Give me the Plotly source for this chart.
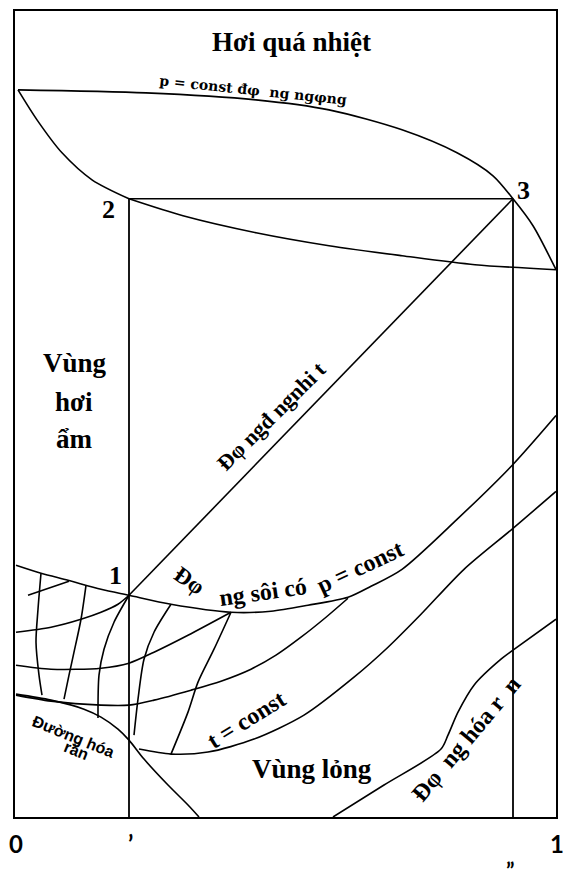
import plotly.graph_objects as go

# plot units: box is 541 wide x 807 tall, origin bottom-left
X_LEFT, X_RIGHT = 0, 541
Y_BOTTOM, Y_TOP = 0, 807
X_PRIME, X_DPRIME = 114, 498      # x' and x'' verticals
Y_23 = 619                        # level of the 2-3 line
P1 = (114, 222)                   # point 1
P3 = (498, 619)                   # point 3

# curves
top_x = [3, 131, 241, 314, 387, 442, 478, 498, 518, 541]
top_y = [728, 725, 718, 708, 688, 665, 642, 619, 592, 548]

left_x = [3, 22, 47, 77, 114]
left_y = [728, 698, 665, 638, 619]

low_x = [114, 168, 241, 314, 387, 460, 541]
low_y = [619, 602, 585, 572, 562, 553, 548]

boil_x = [1, 26, 53, 86, 114, 156, 216, 256, 293, 333, 356, 387, 442, 497, 541]
boil_y = [252, 244, 237, 228, 222, 213, 205, 206, 212, 220, 231, 248, 298, 352, 402]

c2_x = [1, 36, 66, 86, 103, 114]
c2_y = [185, 190, 198, 205, 213, 222]

c3_x = [1, 36, 86, 114, 139, 173, 216]
c3_y = [152, 148, 149, 154, 165, 182, 205]

c4_x = [1, 36, 86, 114, 139, 176, 206, 236, 261, 286, 311, 333]
c4_y = [122, 116, 112, 112, 117, 127, 136, 148, 162, 180, 200, 219]

tconst_x = [124, 156, 193, 239, 289, 339, 373, 406, 449, 498, 541]
tconst_y = [68, 63, 65, 78, 102, 140, 170, 203, 248, 289, 326]

melt_l_x = [1, 36, 69, 86, 103, 114, 129, 153, 173, 184]
melt_l_y = [123, 117, 108, 100, 88, 77, 58, 32, 12, 0]

melt_r_x = [318, 369, 426, 433, 443, 459, 486, 498, 541]
melt_r_y = [0, 32, 68, 82, 105, 132, 158, 167, 198]

v1_x = [26, 23, 21, 24, 27]
v1_y = [244, 208, 175, 142, 122]
v2_x = [71, 66, 59, 54, 49]
v2_y = [232, 198, 165, 142, 118]
v3_x = [114, 99, 89, 84, 83]
v3_y = [222, 195, 168, 142, 99]
v4_x = [156, 139, 129, 123, 119]
v4_y = [213, 185, 158, 118, 82]
v5_x = [216, 199, 183, 173, 156]
v5_y = [205, 168, 135, 105, 63]
short_x = [13, 54]
short_y = [222, 236]

# bottom labels (x in plot units, y in px below the box)
tick_text = ["0", "’", "1", "”"]
tick_x = [1, 115, 542, 496]
tick_dy = [27, 27, 27, 54]
tick_size = [24, 24, 24, 22]

SERIF = "Liberation Serif, Times New Roman, serif"
SANS = "Lato, Liberation Sans, sans-serif"

fig = go.Figure()


def line(xs, ys, shape="spline", width=1.6):
    fig.add_trace(go.Scatter(x=xs, y=ys, mode="lines", showlegend=False,
                             hoverinfo="skip",
                             line=dict(color="black", width=width, shape=shape,
                                       smoothing=0.8)))


for xs, ys in [(top_x, top_y), (left_x, left_y), (low_x, low_y),
               (boil_x, boil_y), (c2_x, c2_y), (c3_x, c3_y), (c4_x, c4_y),
               (tconst_x, tconst_y), (melt_l_x, melt_l_y),
               (melt_r_x, melt_r_y), (v1_x, v1_y), (v2_x, v2_y),
               (v3_x, v3_y), (v4_x, v4_y), (v5_x, v5_y)]:
    line(xs, ys)

line(short_x, short_y, "linear")
line([X_PRIME, X_DPRIME], [Y_23, Y_23], "linear")
line([X_PRIME, X_PRIME], [Y_BOTTOM, Y_23], "linear", 1.8)
line([X_DPRIME, X_DPRIME], [Y_BOTTOM, Y_23], "linear", 1.8)
line([P1[0], P3[0]], [P1[1], P3[1]], "linear")

# text labels: (text, x, y, size, angle, font)
labels = [
    ("Hơi quá nhiệt", 276, 776, 27, 0, SERIF),
    ("p = const đφ  ng ngφng", 238, 728, 14, 6, "DejaVu Serif"),
    ("2", 93, 608, 26, 0, SERIF),
    ("3", 508, 627, 26, 0, SERIF),
    ("Vùng", 60, 455, 27, 0, SERIF),
    ("hơi", 59, 416, 27, 0, SERIF),
    ("ẩm", 59, 378, 27, 0, SERIF),
    ("1", 100, 242, 26, 0, SERIF),
    ("Đφ ngđ ngnhi t", 256, 401, 22, -45, SERIF),
    ("Đφ", 174, 237, 23, 35, SERIF),
    ("ng sôi có", 248, 225, 24, -8, SERIF),
    ("p = const", 345, 250, 24, -25, SERIF),
    ("t = const", 231, 97, 24, -32, SERIF),
    ("Đường hóa", 58, 81, 16, 22, "Liberation Sans"),
    ("rắn", 61, 67, 16, 22, "Liberation Sans"),
    ("Vùng lỏng", 297, 48, 27, 0, SERIF),
    ("Đφ  ng hóa r  n", 451, 78, 24, -50, SERIF),
]

annotations = [
    dict(text=f"<b>{t}</b>", x=x, y=y, xref="x", yref="y", showarrow=False,
         textangle=a, font=dict(size=s, color="black", family=f))
    for t, x, y, s, a, f in labels
]

for t, x, dy, s in zip(tick_text, tick_x, tick_dy, tick_size):
    annotations.append(dict(text=f"<b>{t}</b>", x=x / X_RIGHT, y=-dy / Y_TOP,
                            xref="paper", yref="paper", showarrow=False,
                            xanchor="center", yanchor="middle",
                            font=dict(size=s, color="black", family=SANS)))

fig.update_layout(
    width=563, height=875,
    margin=dict(l=7, r=15, t=1, b=66),
    paper_bgcolor="white", plot_bgcolor="white",
    xaxis=dict(range=[X_LEFT, X_RIGHT], showgrid=False, zeroline=False,
               showticklabels=False, ticks="", showline=True, mirror=True,
               linecolor="black", linewidth=2),
    yaxis=dict(range=[Y_BOTTOM, Y_TOP], showgrid=False, zeroline=False,
               showticklabels=False, ticks="", showline=True, mirror=True,
               linecolor="black", linewidth=2),
    annotations=annotations,
)

fig.write_html("out.html")
